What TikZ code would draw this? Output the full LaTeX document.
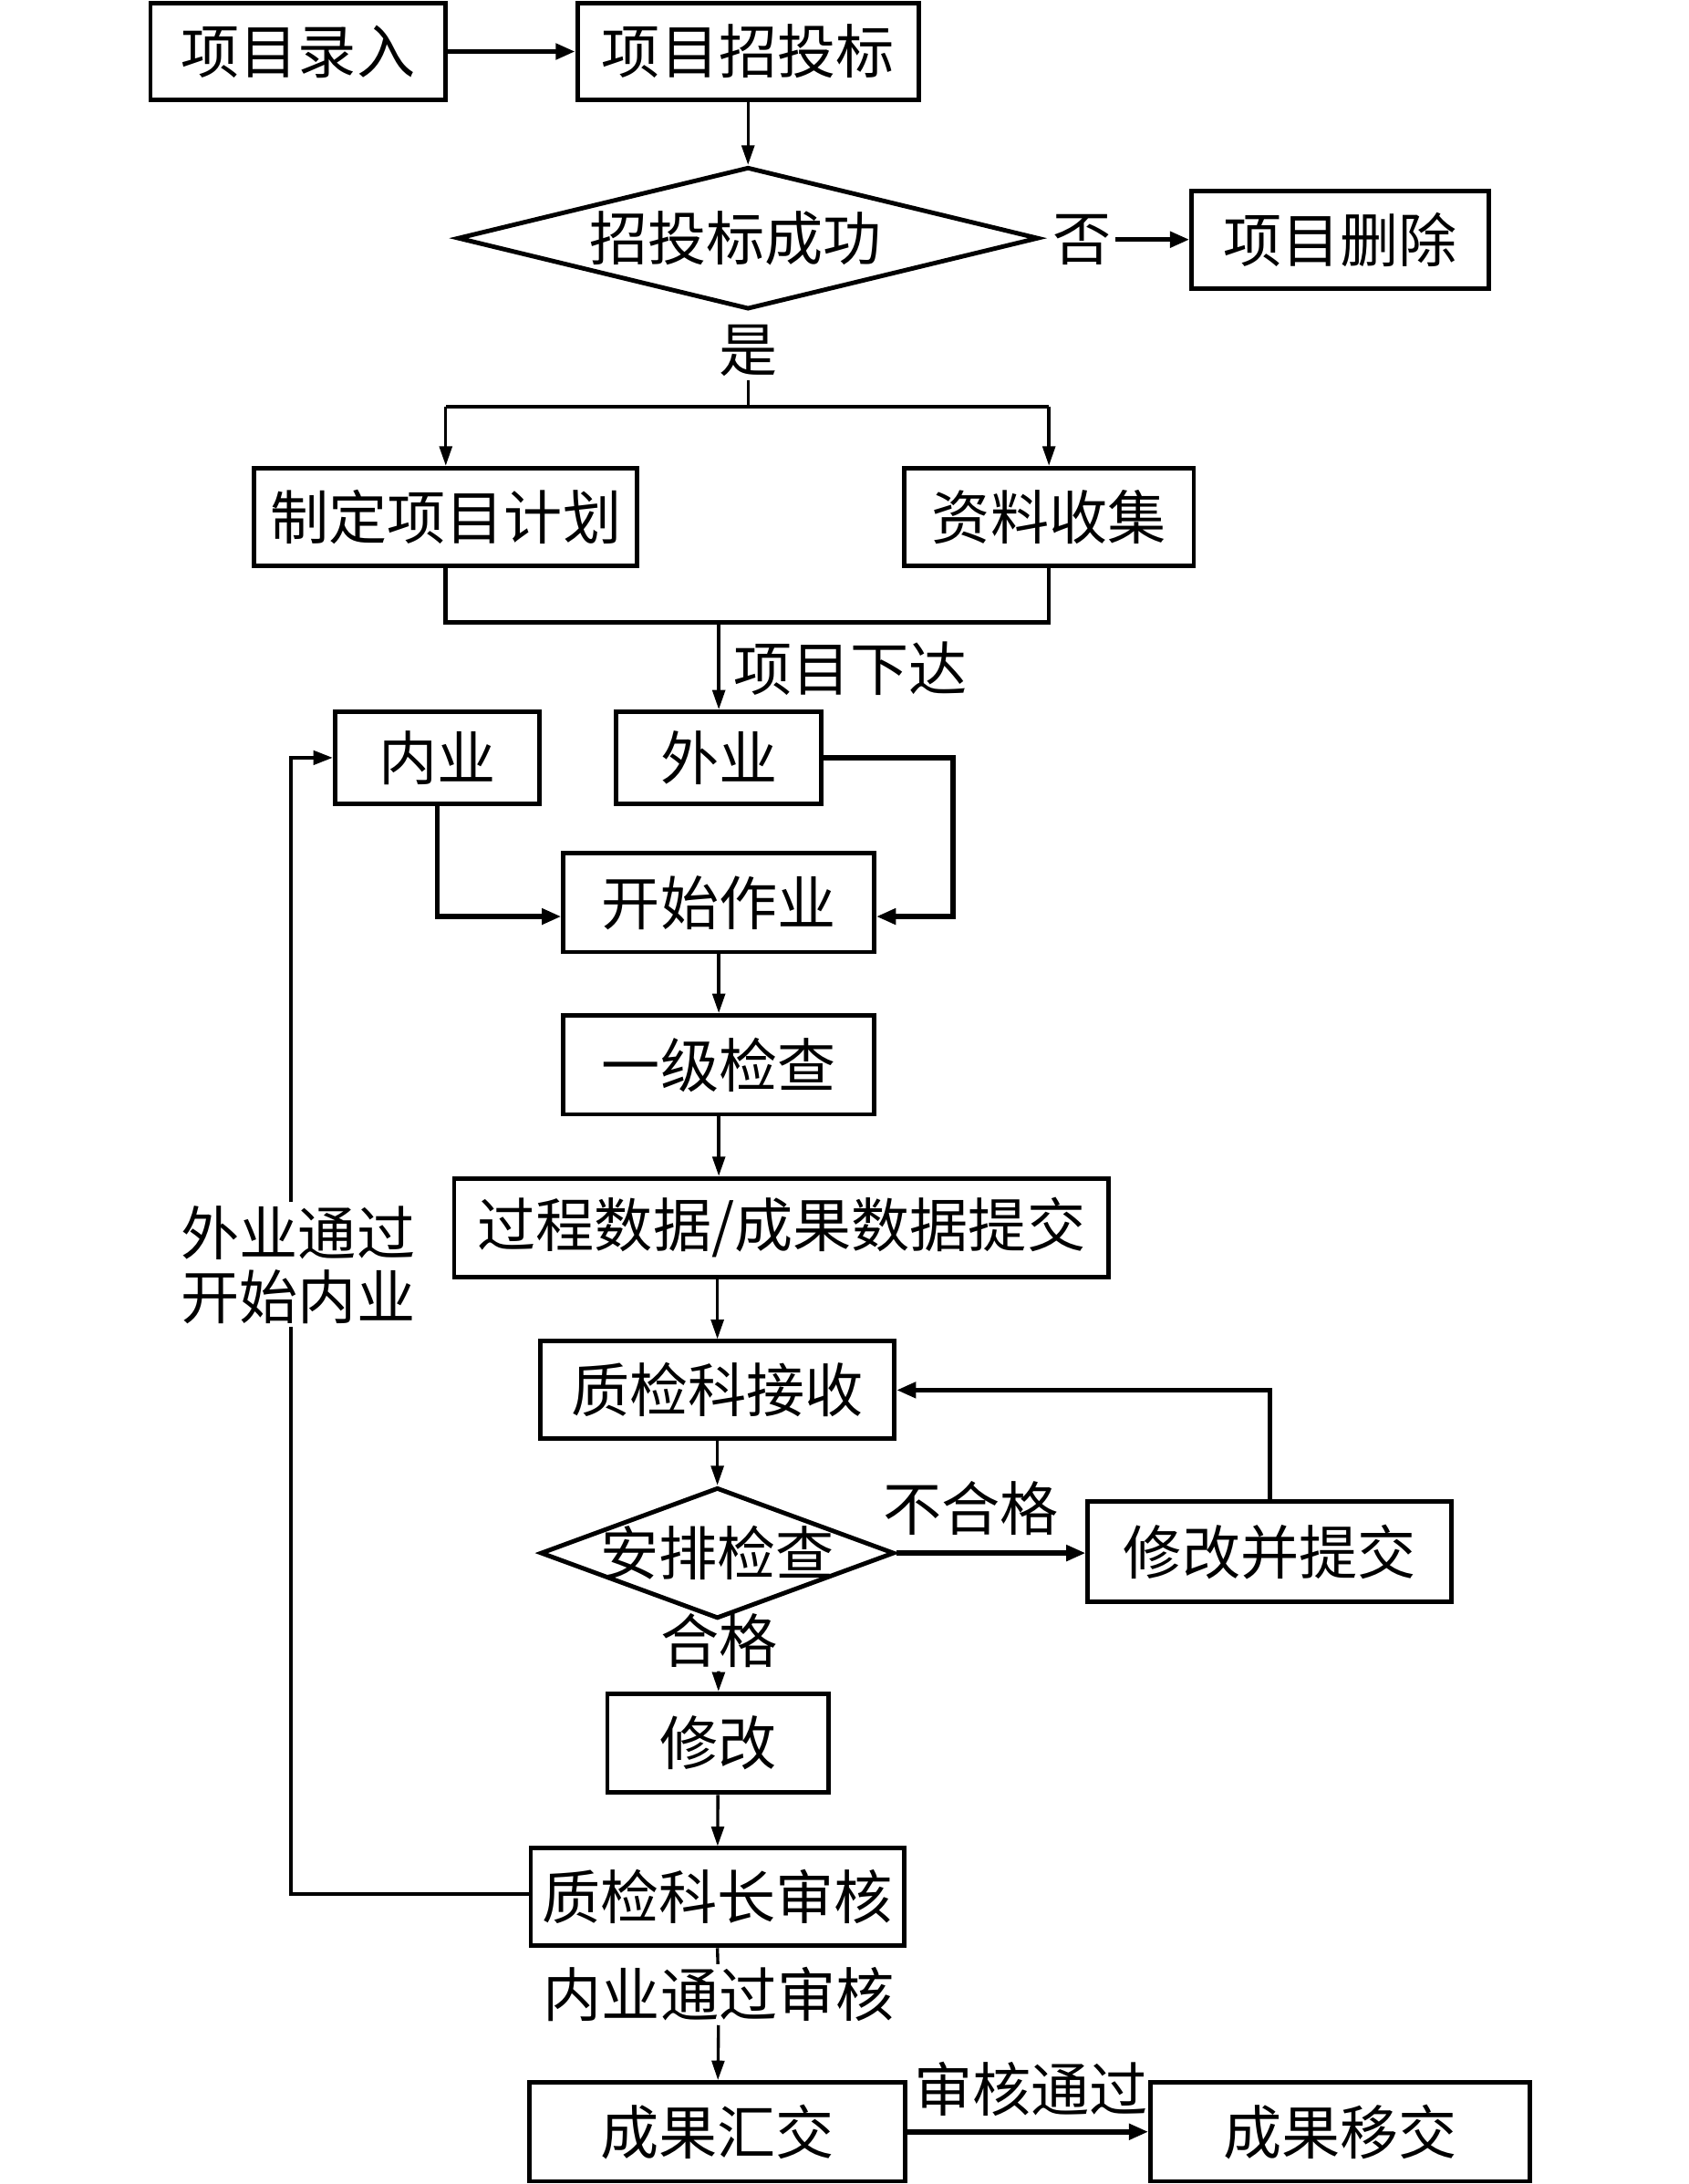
\documentclass[tikz,border=0pt]{standalone}
\usepackage{fontspec}
\setmainfont{Noto Sans CJK SC}
\usetikzlibrary{arrows.meta,shapes.geometric,calc}
\begin{document}
\begin{tikzpicture}[x=1pt,y=-1pt,
  txt/.style={font=\fontsize{21}{23}\selectfont},
  box/.style={txt,draw,line width=1.6pt,inner sep=0pt},
  dia/.style={draw,diamond,line width=1.6pt,inner sep=0pt},
  lbl/.style={txt,inner sep=1pt},
  thinarrow/.style={line width=1.1pt,-{Triangle[length=7pt,width=4.5pt]}},
  thickarrow/.style={line width=1.8pt,-{Triangle[length=7pt,width=5.5pt]}},
  looparrow/.style={line width=1.3pt,-{Triangle[length=7pt,width=5pt]}},
  thinline/.style={line width=1.1pt},
  loopline/.style={line width=1.3pt},
  thickline/.style={line width=1.5pt}]
\useasboundingbox (0,0) rectangle (606,784);
\node[box,minimum width=106pt,minimum height=34.5pt] (lr) at (107,18.5) {项目录入};
\node[box,minimum width=122.5pt,minimum height=34.5pt] (zt) at (268.5,18.5) {项目招投标};
\node[dia,minimum width=208.5pt,minimum height=51pt] (cg) at (268.5,85.5) {};
\node[lbl] (cgt) at (264,85.5) {招投标成功};
\node[lbl] (fou) at (388.5,86) {否};
\node[box,minimum width=106.5pt,minimum height=35pt] (sc) at (481,86) {项目删除};
\node[lbl] (shi) at (268.5,126) {是};
\coordinate (sp) at (268.5,146);
\node[box,minimum width=137.5pt,minimum height=35pt] (jh) at (160,185.5) {制定项目计划};
\node[box,minimum width=104pt,minimum height=35pt] (zl) at (376.5,185.5) {资料收集};
\coordinate (jn) at (258,223.5);
\node[box,minimum width=73.5pt,minimum height=33pt] (ny) at (157,272) {内业};
\node[box,minimum width=73.5pt,minimum height=33pt] (wy) at (258,272) {外业};
\node[lbl,anchor=west] (xd) at (262,240) {项目下达};
\coordinate (wr) at (342,272);
\node[box,minimum width=111.5pt,minimum height=35.5pt] (ks) at (258,324) {开始作业};
\node[box,minimum width=111.5pt,minimum height=35.5pt] (yj) at (258,382.25) {一级检查};
\node[box,minimum width=235pt,minimum height=35.5pt] (tj) at (280.5,440.75) {过程数据/成果数据提交};
\node[box,minimum width=127pt,minimum height=35pt] (js) at (257.5,499) {质检科接收};
\node[dia,minimum width=127pt,minimum height=47pt] (ap) at (257.5,557.5) {};
\node[lbl] (apt) at (257.5,557.5) {安排检查};
\node[box,minimum width=130.5pt,minimum height=36pt] (xt) at (455.75,557) {修改并提交};
\node[lbl] (bhg) at (348.5,541.5) {不合格};
\node[lbl] (hg) at (258,589) {合格};
\node[box,minimum width=79.5pt,minimum height=35.5pt] (xg) at (257.75,625.75) {修改};
\node[box,minimum width=134pt,minimum height=35pt] (sh) at (257.5,681) {质检科长审核};
\node[lbl] (ntg) at (258,716) {内业通过审核};
\node[box,minimum width=135pt,minimum height=35.5pt] (hj) at (257.5,765.25) {成果汇交};
\node[box,minimum width=136pt,minimum height=35.5pt] (yjj) at (481,765.25) {成果移交};
\node[lbl] (shtg) at (370,750) {审核通过};
\node[lbl,align=center] (wtg) at (107,454) {外业通过\\开始内业};
\coordinate (lb) at (104.5,680);
% connectors
\draw[thickarrow] (lr) -- (zt);
\draw[thinarrow] (zt) -- (cg.north);
\draw[thickarrow] (fou) -- (sc);
\draw[thinline] (shi) -- (sp);
\draw[thickline] (jh.north |- sp) -- (zl.north |- sp);
\draw[thinarrow] (jh.north |- sp) -- (jh.north);
\draw[thinarrow] (zl.north |- sp) -- (zl.north);
\draw[thickline] (jh.south) |- (jn) -| (zl.south);
\draw[thinarrow] (jn) -- (wy);
\draw[thickarrow] (ny.south) |- ($(ks.west)+(0,5)$);
\draw[thickarrow] (wy.east) -- (wr) |- ($(ks.east)+(0,5)$);
\draw[thinarrow] (ks) -- (yj);
\draw[thinarrow] (yj.south) -- (yj.south |- tj.north);
\draw[thinarrow] (js.north |- tj.south) -- (js.north);
\draw[thinarrow] (js) -- (ap.north);
\draw[thickarrow] (ap.east) -- (ap.east -| xt.west);
\draw[thickarrow] (xt.north) |- (js.east);
\draw[thinarrow] (hg) -- (xg);
\draw[thinarrow] (xg) -- (sh);
\draw[thinline] (sh.south) -- (ntg);
\draw[thinarrow] (ntg) -- (hj);
\draw[thickarrow] (hj.east) -- (hj.east -| yjj.west);
\draw[loopline] (sh.west |- lb) -- (lb) -- (lb |- wtg.south);
\draw[looparrow] (lb |- wtg.north) |- (ny.west);
\end{tikzpicture}
\end{document}
